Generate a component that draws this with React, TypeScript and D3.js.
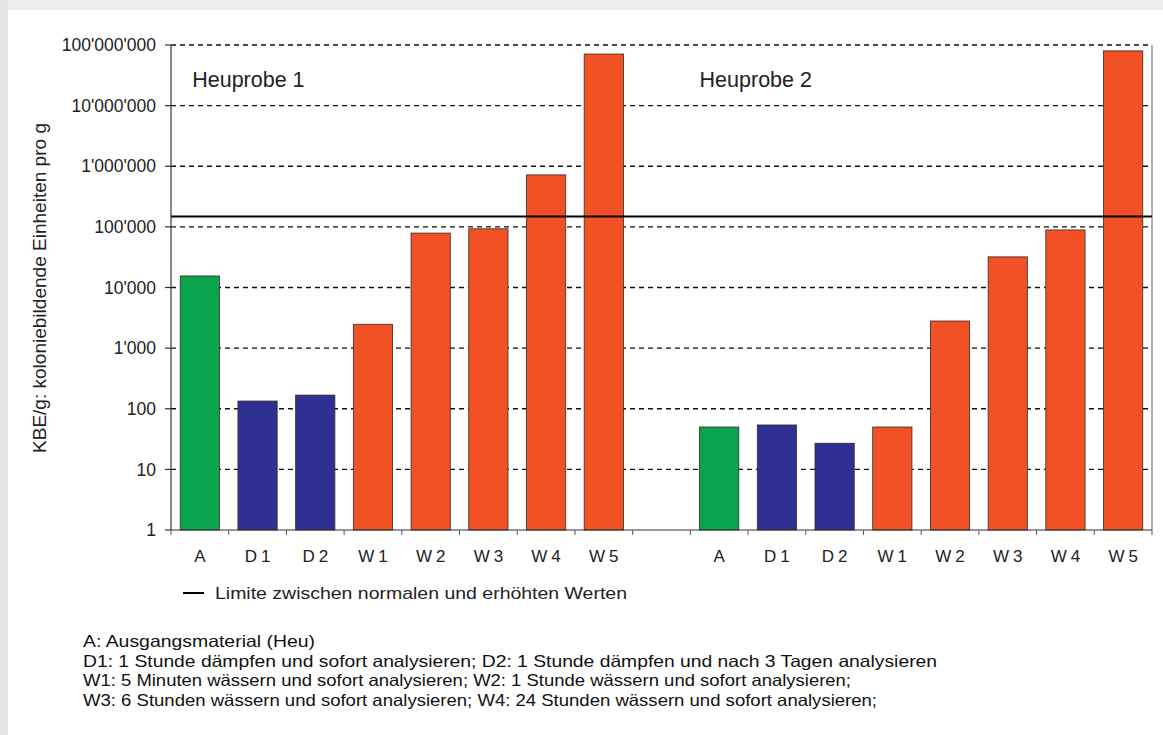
import * as d3 from "d3";

const categories = ["A", "D1", "D2", "W1", "W2", "W3", "W4", "W5"];
const groups = ["Heuprobe 1", "Heuprobe 2"];
const probe1Values = [15500, 134, 168, 2470, 79000, 93000, 720000, 71000000];
const probe2Values = [50, 54, 27, 50, 2800, 32000, 89000, 80000000];
const limitValue = 148000;
const yTickValues = [1, 10, 100, 1000, 10000, 100000, 1000000, 10000000, 100000000];
const legendLabel = "Limite zwischen normalen und erhöhten Werten";
const yTitle = "KBE/g: koloniebildende Einheiten pro g";
const footnotes = [
	"A: Ausgangsmaterial (Heu)",
	"D1: 1 Stunde dämpfen und sofort analysieren; D2: 1 Stunde dämpfen und nach 3 Tagen analysieren",
	"W1: 5 Minuten wässern und sofort analysieren; W2: 1 Stunde wässern und sofort analysieren;",
	"W3: 6 Stunden wässern und sofort analysieren; W4: 24 Stunden wässern und sofort analysieren;",
];

const colorFor = (cat: string) =>
	cat === "A" ? "#0aa44f" : cat.startsWith("D") ? "#2e3192" : "#f15124";

const formatTick = (v: number) => d3.format(",")(v).replace(/,/g, "'");

export default function App() {
	const width = 1163;
	const height = 735;
	const margin = { top: 45, right: 11, bottom: 205, left: 171 };
	const innerWidth = width - margin.left - margin.right;
	const innerHeight = height - margin.top - margin.bottom;

	// 17 slots: 8 bars, a gap, 8 bars
	const slots = [
		...categories.map((c) => `1-${c}`),
		"gap",
		...categories.map((c) => `2-${c}`),
	];
	const x = d3.scaleBand().domain(slots).range([0, innerWidth]).paddingInner(0.32).paddingOuter(0.16);
	const step = x.step();
	const y = d3.scaleLog().domain([1, 100000000]).range([innerHeight, 0]);

	const bars = [
		...probe1Values.map((v, i) => ({ key: `1-${categories[i]}`, cat: categories[i], v })),
		...probe2Values.map((v, i) => ({ key: `2-${categories[i]}`, cat: categories[i], v })),
	];

	const font = "Arial, 'Liberation Sans', sans-serif";

	return (
		<div style={{ position: "fixed", inset: 0, background: "#eef0f0" }}>
			<svg width={width} height={height} style={{ display: "block" }} fontFamily={font}>
				<rect x={0} y={0} width={8} height={height} fill="#e2e3e4" />
				<rect x={8} y={10} width={width - 8} height={height - 10} fill="#ffffff" />
				<g transform={`translate(${margin.left},${margin.top})`}>
					{/* grid */}
					{yTickValues.slice(1).map((t) => (
						<line
							key={t}
							x1={0}
							x2={innerWidth}
							y1={y(t)}
							y2={y(t)}
							stroke="#111"
							strokeWidth={1.4}
							strokeDasharray="5,4"
						/>
					))}
					{/* right border */}
					<line x1={innerWidth} x2={innerWidth} y1={0} y2={innerHeight} stroke="#999" strokeWidth={1.5} />
					{/* bars */}
					{bars.map((b) => (
						<rect
							key={b.key}
							x={x(b.key)}
							y={y(b.v)}
							width={x.bandwidth()}
							height={innerHeight - y(b.v)}
							fill={colorFor(b.cat)}
							stroke="#3a2a20"
							strokeWidth={0.8}
						/>
					))}
					{/* limit line */}
					<line x1={0} x2={innerWidth} y1={y(limitValue)} y2={y(limitValue)} stroke="#000" strokeWidth={2} />
					{/* axes */}
					<line x1={0} x2={0} y1={0} y2={innerHeight} stroke="#333" strokeWidth={1.2} />
					<line x1={0} x2={innerWidth} y1={innerHeight} y2={innerHeight} stroke="#333" strokeWidth={1.2} />
					{yTickValues.map((t) => (
						<g key={t} transform={`translate(0,${y(t)})`}>
							<line x1={-6} x2={0} stroke="#333" strokeWidth={1.2} />
							<text x={-15} dy="0.35em" textAnchor="end" fontSize={17.5} fill="#222">
								{formatTick(t)}
							</text>
						</g>
					))}
					{d3.range(slots.length + 1).map((i) => (
						<line
							key={i}
							x1={i * step}
							x2={i * step}
							y1={innerHeight}
							y2={innerHeight + 5}
							stroke="#555"
							strokeWidth={1}
						/>
					))}
					{bars.map((b) => (
						<text
							key={b.key}
							x={(x(b.key) ?? 0) + x.bandwidth() / 2 + 2}
							y={innerHeight + 32}
							textAnchor="middle"
							fontSize={17}
							letterSpacing={4}
							fill="#222"
						>
							{b.cat}
						</text>
					))}
					{/* group labels */}
					<text x={(x("1-A") ?? 0) + 12} y={42} fontSize={21.5} fill="#222">
						{groups[0]}
					</text>
					<text x={x("2-A") ?? 0} y={42} fontSize={21.5} fill="#222">
						{groups[1]}
					</text>
				</g>
				{/* y title */}
				<text
					transform={`translate(46,288) rotate(-90)`}
					textAnchor="middle"
					fontSize={17.5}
					fill="#222"
					textLength={330}
					lengthAdjust="spacingAndGlyphs"
				>
					{yTitle}
				</text>
				{/* legend */}
				<line x1={183} x2={204} y1={593} y2={593} stroke="#000" strokeWidth={2} />
				<text x={215} y={599} fontSize={17} fill="#222" textLength={412} lengthAdjust="spacingAndGlyphs">
					{legendLabel}
				</text>
				{/* footnotes */}
				{footnotes.map((line, i) => (
					<text
						key={i}
						x={83}
						y={647 + i * 19.5}
						fontSize={16.5}
						fill="#111"
						textLength={[232, 854, 768, 794][i]}
						lengthAdjust="spacingAndGlyphs"
					>
						{line}
					</text>
				))}
			</svg>
		</div>
	);
}
